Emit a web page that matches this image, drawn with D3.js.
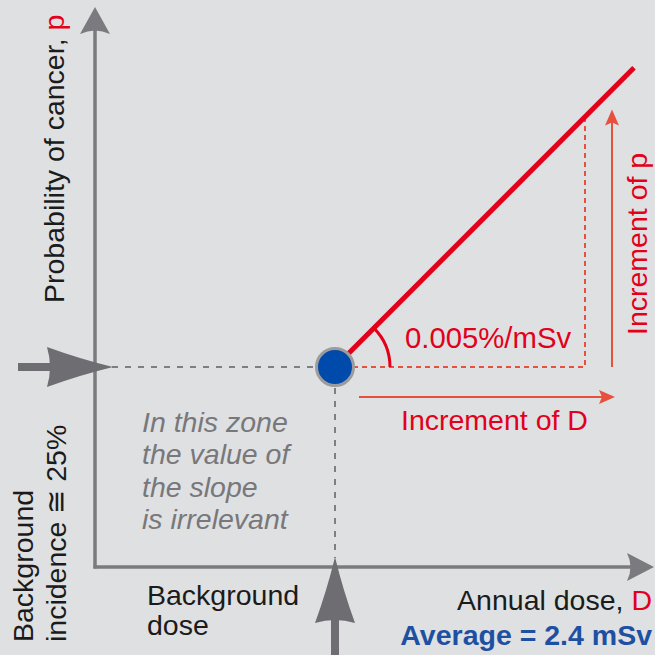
<!DOCTYPE html>
<html>
<head>
<meta charset="utf-8">
<script src="https://cdn.jsdelivr.net/npm/d3@7"></script>
<style>
  html, body { margin: 0; padding: 0; background: #dfe0e2; }
  svg { display: block; }
  text { font-family: "Liberation Sans", Arial, Helvetica, sans-serif; }
</style>
</head>
<body>
<svg id="chart" width="655" height="655"></svg>
<script>
// ---- data (schematic units: D in mSv-like units, p in %) ----
const doseDomain = [0, 5.6];
const probDomain = [0, 70];
const backgroundPoint = { D: 2.4, p: 25 };
const responseLine = [ { D: 2.4, p: 25 }, { D: 5.39, p: 62.4 } ];
const incrementTriangle = [ { D: 2.4, p: 25 }, { D: 4.9, p: 25 }, { D: 4.9, p: 56.25 } ];
const incrementDArrow = [ { D: 2.64, p: 21.25 }, { D: 5.2, p: 21.25 } ];
const incrementPArrow = [ { D: 5.17, p: 25 }, { D: 5.17, p: 57.2 } ];
const slopeLabel = "0.005%/mSv";
const zoneLines = ["In this zone", "the value of", "the slope", "is irrelevant"];
const bgIncidenceLines = ["Background", "incidence \u2245 25%"];
const bgDoseLines = ["Background", "dose"];
const averageLabel = "Average = 2.4 mSv";

// ---- colors ----
const C = {
  axis: "#7b7a7e", arrow: "#6e6d72", dash: "#7f7f83",
  red: "#e2001a", redLight: "#e8503e", text: "#1b1b1b",
  grey: "#78787b", blue: "#1d50a2", dot: "#004aab", dotStroke: "#9c9c9f"
};

const svg = d3.select("#chart");
const x = d3.scaleLinear().domain(doseDomain).range([95, 655]);
const y = d3.scaleLinear().domain(probDomain).range([567, 7]);
const line = d3.line().x(d => x(d.D)).y(d => y(d.p));

const x0 = x(0), y0 = y(0);
const bx = x(backgroundPoint.D), by = y(backgroundPoint.p);

// ---- axes ----
svg.append("line").attr("x1", x0).attr("y1", y0 + 1.5).attr("x2", x0).attr("y2", 28)
  .attr("stroke", C.axis).attr("stroke-width", 3.5);
svg.append("line").attr("x1", x0 - 1.5).attr("y1", y0).attr("x2", 632).attr("y2", y0)
  .attr("stroke", C.axis).attr("stroke-width", 3.5);
svg.append("path")
  .attr("d", `M${x0},7 L${x0 + 15},34 Q${x0},27 ${x0 - 15},34 Z`)
  .attr("fill", C.axis);
svg.append("path")
  .attr("d", `M654,${y0} L627,${y0 - 14} Q634,${y0} 627,${y0 + 14} Z`)
  .attr("fill", C.axis);

// ---- dashed guides ----
svg.append("line").attr("x1", 112).attr("y1", by).attr("x2", bx - 19).attr("y2", by)
  .attr("stroke", C.dash).attr("stroke-width", 2).attr("stroke-dasharray", "6,7");
svg.append("line").attr("x1", bx).attr("y1", by + 21).attr("x2", bx).attr("y2", 558)
  .attr("stroke", C.dash).attr("stroke-width", 2).attr("stroke-dasharray", "6,7");

// ---- big grey arrows ----
svg.append("line").attr("x1", 18).attr("y1", by).attr("x2", 52).attr("y2", by)
  .attr("stroke", C.arrow).attr("stroke-width", 8);
svg.append("path")
  .attr("d", `M113,${by} Q80,${by - 8} 47,${by - 20} Q53,${by} 47,${by + 20} Q80,${by + 8} 113,${by} Z`)
  .attr("fill", C.arrow);
svg.append("line").attr("x1", bx).attr("y1", 618).attr("x2", bx).attr("y2", 655)
  .attr("stroke", C.arrow).attr("stroke-width", 8);
svg.append("path")
  .attr("d", `M${bx},557 Q${bx + 8},590 ${bx + 20},623 Q${bx},617 ${bx - 20},623 Q${bx - 8},590 ${bx},557 Z`)
  .attr("fill", C.arrow);

// ---- increment triangle (dashed, red) ----
svg.append("path").attr("d", line(incrementTriangle))
  .attr("fill", "none").attr("stroke", C.redLight).attr("stroke-width", 2)
  .attr("stroke-dasharray", "5,4");

// ---- increment arrows ----
const dA = incrementDArrow, pA = incrementPArrow;
svg.append("line").attr("x1", x(dA[0].D)).attr("y1", y(dA[0].p)).attr("x2", x(dA[1].D) - 12).attr("y2", y(dA[1].p))
  .attr("stroke", C.redLight).attr("stroke-width", 2);
svg.append("path")
  .attr("d", `M${x(dA[1].D)},${y(dA[1].p)} L${x(dA[1].D) - 16},${y(dA[1].p) - 7} L${x(dA[1].D) - 13},${y(dA[1].p)} L${x(dA[1].D) - 16},${y(dA[1].p) + 7} Z`)
  .attr("fill", C.redLight);
svg.append("line").attr("x1", x(pA[0].D)).attr("y1", y(pA[0].p)).attr("x2", x(pA[1].D)).attr("y2", y(pA[1].p) + 12)
  .attr("stroke", C.redLight).attr("stroke-width", 2);
svg.append("path")
  .attr("d", `M${x(pA[1].D)},${y(pA[1].p)} L${x(pA[1].D) + 7},${y(pA[1].p) + 16} L${x(pA[1].D)},${y(pA[1].p) + 13} L${x(pA[1].D) - 7},${y(pA[1].p) + 16} Z`)
  .attr("fill", C.redLight);

// ---- response line ----
svg.append("path").attr("d", line(responseLine))
  .attr("fill", "none").attr("stroke", C.red).attr("stroke-width", 5);

// ---- angle arc ----
const lp = responseLine[1];
const ang = Math.atan2(by - y(lp.p), x(lp.D) - bx);
const arc = d3.arc().innerRadius(55).outerRadius(55).startAngle(Math.PI / 2 - ang).endAngle(Math.PI / 2);
svg.append("path").attr("d", arc()).attr("transform", `translate(${bx},${by})`)
  .attr("fill", "none").attr("stroke", C.red).attr("stroke-width", 3);

// ---- background point ----
svg.append("circle").attr("cx", bx).attr("cy", by).attr("r", 18.5)
  .attr("fill", C.dot).attr("stroke", C.dotStroke).attr("stroke-width", 3);

// ---- texts ----
const fs = 28.5;
svg.append("text").attr("x", 405).attr("y", 348).attr("font-size", 29.3).attr("fill", C.red).text(slopeLabel);
svg.append("text").attr("x", 401).attr("y", 430).attr("font-size", fs).attr("fill", C.red).text("Increment of D");
svg.append("text").attr("transform", "translate(647,335) rotate(-90)").attr("font-size", fs)
  .attr("fill", C.red).text("Increment of p");

const yl = svg.append("text").attr("transform", "translate(64,303) rotate(-90)").attr("font-size", fs).attr("fill", C.text);
yl.append("tspan").text("Probability of cancer, ");
yl.append("tspan").attr("fill", C.red).text("p");

bgIncidenceLines.forEach((t, i) => {
  svg.append("text").attr("transform", `translate(${33 + i * 33},642) rotate(-90)`)
    .attr("font-size", fs).attr("fill", C.text).text(t);
});

zoneLines.forEach((t, i) => {
  svg.append("text").attr("x", 142).attr("y", 432 + i * 32.3).attr("font-size", fs)
    .attr("font-style", "italic").attr("fill", C.grey).text(t);
});

bgDoseLines.forEach((t, i) => {
  svg.append("text").attr("x", 147).attr("y", 605 + i * 30).attr("font-size", fs).attr("fill", C.text).text(t);
});

const xl = svg.append("text").attr("x", 652).attr("y", 610).attr("text-anchor", "end").attr("font-size", fs).attr("fill", C.text);
xl.append("tspan").text("Annual dose, ");
xl.append("tspan").attr("fill", C.red).text("D");

svg.append("text").attr("x", 652).attr("y", 645).attr("text-anchor", "end").attr("font-size", fs)
  .attr("font-weight", "bold").attr("fill", C.blue).text(averageLabel);
</script>
</body>
</html>
